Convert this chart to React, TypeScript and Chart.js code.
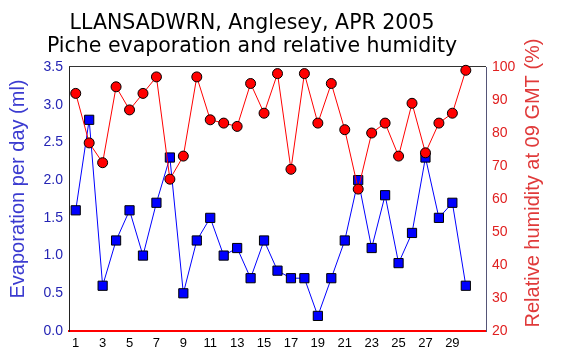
import React, { useEffect, useRef } from "react";
import { Chart, registerables } from "chart.js";

Chart.register(...registerables);

// ---- data ----
const days = [
  1, 2, 3, 4, 5, 6, 7, 8, 9, 10, 11, 12, 13, 14, 15,
  16, 17, 18, 19, 20, 21, 22, 23, 24, 25, 26, 27, 28, 29, 30,
];
const evaporation = [
  1.6, 2.8, 0.6, 1.2, 1.6, 1.0, 1.7, 2.3, 0.5, 1.2, 1.5, 1.0, 1.1, 0.7, 1.2,
  0.8, 0.7, 0.7, 0.2, 0.7, 1.2, 2.0, 1.1, 1.8, 0.9, 1.3, 2.3, 1.5, 1.7, 0.6,
];
const humidity = [
  92, 77, 71, 94, 87, 92, 97, 66, 73, 97, 84, 83, 82, 95, 86,
  98, 69, 98, 83, 95, 81, 63, 80, 83, 73, 89, 74, 83, 86, 99,
];
const xTicks = [1, 3, 5, 7, 9, 11, 13, 15, 17, 19, 21, 23, 25, 27, 29];
const titleLines = ["LLANSADWRN, Anglesey, APR 2005", "Piche evaporation and relative humidity"];
const leftTitle = "Evaporation per day (ml)";
const rightTitle = "Relative humidity at 09 GMT (%)";

const extraText = {
  id: "extraText",
  beforeDatasetsDraw(chart: any) {
    const { ctx, chartArea: a } = chart;
    ctx.save();
    ctx.strokeStyle = "#333333";
    ctx.lineWidth = 1;
    ctx.beginPath();
    ctx.moveTo(a.left, a.top - 0.5);
    ctx.lineTo(a.right, a.top - 0.5);
    ctx.stroke();
    ctx.restore();
  },
  afterDraw(chart: any) {
    const { ctx } = chart;
    ctx.save();
    ctx.fillStyle = "#000000";
    ctx.font = "20.5px 'DejaVu Sans'";
    ctx.textAlign = "center";
    ctx.textBaseline = "alphabetic";
    ctx.fillText(titleLines[0], 252, 29);
    ctx.fillText(titleLines[1], 252, 52);

    ctx.font = "20px 'Liberation Sans'";
    ctx.fillStyle = "#3b3bd0";
    ctx.textBaseline = "middle";
    ctx.translate(18, 189);
    ctx.rotate(-Math.PI / 2);
    ctx.fillText(leftTitle, 0, 0);
    ctx.restore();

    ctx.save();
    ctx.font = "20px 'Liberation Sans'";
    ctx.fillStyle = "#e03a3a";
    ctx.textAlign = "center";
    ctx.textBaseline = "middle";
    ctx.translate(533, 183);
    ctx.rotate(-Math.PI / 2);
    ctx.fillText(rightTitle, 0, 0);
    ctx.restore();
  },
};

export default function App() {
  const ref = useRef<HTMLCanvasElement>(null);
  useEffect(() => {
    const tickFont = { family: "'Liberation Sans', Arial, sans-serif", size: 14 };
    const chart = new Chart(ref.current as HTMLCanvasElement, {
      type: "line",
      data: {
        datasets: [
          {
            label: "Relative humidity",
            data: days.map((d, i) => ({ x: d, y: humidity[i] })),
            yAxisID: "yR",
            borderColor: "#ff0000",
            borderWidth: 1,
            pointStyle: "circle",
            pointRadius: 5,
            pointBackgroundColor: "#ff0000",
            pointBorderColor: "#000000",
            pointBorderWidth: 1,
            order: 0,
            clip: false,
          } as any,
          {
            label: "Evaporation",
            data: days.map((d, i) => ({ x: d, y: evaporation[i] })),
            yAxisID: "y",
            borderColor: "#0000ff",
            borderWidth: 1,
            pointStyle: "rect",
            pointRadius: 6.5,
            pointBackgroundColor: "#0000ff",
            pointBorderColor: "#000000",
            pointBorderWidth: 1,
            order: 1,
            clip: false,
          } as any,
        ],
      },
      options: {
        responsive: false,
        animation: false,
        devicePixelRatio: 1,
        layout: { padding: { top: 67, left: 0, right: 0, bottom: 0 } },
        plugins: {
          legend: { display: false },
          tooltip: { enabled: false },
          title: { display: false },
        },
        scales: {
          x: {
            type: "linear",
            min: 0.5,
            max: 31.5,
            afterBuildTicks: (s: any) => {
              s.ticks = xTicks.map((v) => ({ value: v }));
            },
            afterFit: (s: any) => {
              s.height = 29;
            },
            ticks: {
              autoSkip: false,
              maxRotation: 0,
              color: "#000000",
              font: { family: "'Liberation Sans', Arial, sans-serif", size: 13 },
              padding: 5,
              callback: (v: any) => String(v),
            },
            grid: { display: false, drawTicks: false },
            border: { color: "#ff0000", width: 2 },
          },
          y: {
            position: "left",
            min: 0,
            max: 3.5,
            afterFit: (s: any) => {
              s.width = 69;
            },
            ticks: {
              stepSize: 0.5,
              color: "#2424b4",
              font: tickFont,
              padding: 6,
              callback: (v: any) => Number(v).toFixed(1),
            },
            grid: { display: false, drawTicks: false },
            border: { color: "#222222", width: 1 },
          },
          yR: {
            position: "right",
            min: 20,
            max: 100,
            afterFit: (s: any) => {
              s.width = 78;
            },
            ticks: {
              stepSize: 10,
              color: "#e02020",
              font: tickFont,
              padding: 6,
            },
            grid: { display: false, drawTicks: false },
            border: { color: "#555577", width: 1 },
          },
        } as any,
      },
      plugins: [extraText],
    });
    return () => chart.destroy();
  }, []);

  return (
    <div style={{ position: "absolute", left: 0, top: 0, width: 564, height: 360, background: "#ffffff" }}>
      <canvas ref={ref} width={564} height={360} style={{ display: "block" }} />
    </div>
  );
}
